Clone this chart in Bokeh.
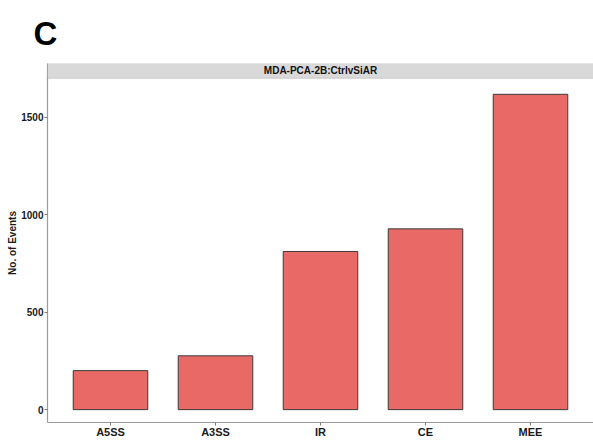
from bokeh.plotting import figure
from bokeh.models import FactorRange, Range1d, FixedTicker, BoxAnnotation, Label
from bokeh.embed import file_html
from bokeh.resources import INLINE

# ---- data ----
categories = ["A5SS", "A3SS", "IR", "CE", "MEE"]
events = [200, 276, 811, 927, 1617]
y_ticks = [0, 500, 1000, 1500]
panel_title = "MDA-PCA-2B:CtrlvSiAR"
panel_tag = "C"
y_label = "No. of Events"

FONT = "Liberation Sans"
BAR_FILL = "#E96966"

Y_START, Y_END = -66, 1775      # value range of the frame (strip included on top)
STRIP_BOTTOM = 1699             # strip occupies [STRIP_BOTTOM, Y_END]
PAD = 0.1                       # categorical padding

p = figure(
    x_range=FactorRange(*categories, range_padding=PAD, range_padding_units="absolute"),
    y_range=Range1d(Y_START, Y_END),
    width=593, height=440,
    output_backend="svg", toolbar_location=None,
    min_border_left=47, min_border_right=0, min_border_top=63, min_border_bottom=13,
    title=panel_tag,
)
p.title.align = "left"
p.title.offset = -14
p.title.standoff = 23
p.title.text_font = FONT
p.title.text_font_size = "33px"
p.title.text_font_style = "bold"
p.title.text_color = "#000000"

p.background_fill_color = "white"
p.border_fill_color = "white"
p.outline_line_color = None
p.xgrid.grid_line_color = None
p.ygrid.grid_line_color = None

p.vbar(x=categories, top=events, width=0.71, bottom=0,
       fill_color=BAR_FILL, line_color="#3a3a3a", line_width=1)

# facet strip
p.add_layout(BoxAnnotation(bottom=STRIP_BOTTOM, top=Y_END, fill_color="#d9d9d9", fill_alpha=1,
                           line_color="#7f7f7f", line_width=1, level="overlay"))
p.add_layout(Label(x=len(categories) / 2, y=(STRIP_BOTTOM + Y_END) / 2, text=panel_title,
                   text_align="center", text_baseline="middle", level="overlay",
                   text_font=FONT, text_font_size="10px", text_font_style="bold",
                   text_color="#111111"))

# axes
p.yaxis.ticker = FixedTicker(ticks=y_ticks)
p.yaxis.minor_tick_line_color = None
p.xaxis.minor_tick_line_color = None
for ax in (p.xaxis, p.yaxis):
    ax.axis_line_color = "#9a9a9a"
    ax.axis_line_width = 1.2
    ax.major_tick_line_color = "#7a7a7a"
    ax.major_tick_in = 0
    ax.major_tick_out = 3
    ax.major_label_text_font = FONT
    ax.major_label_text_font_style = "bold"
    ax.major_label_text_color = "#1a1a1a"
p.yaxis.major_label_text_font_size = "10px"
p.xaxis.major_label_text_font_size = "11px"
p.yaxis.major_label_standoff = 1
p.xaxis.major_label_standoff = 0
p.xaxis.axis_label_standoff = 0
p.yaxis.axis_label = y_label
p.yaxis.axis_label_text_font = FONT
p.yaxis.axis_label_text_font_size = "10px"
p.yaxis.axis_label_text_font_style = "bold"
p.yaxis.axis_label_text_color = "#1a1a1a"
p.yaxis.axis_label_standoff = 0

open("out.html", "w").write(file_html(p, INLINE))
